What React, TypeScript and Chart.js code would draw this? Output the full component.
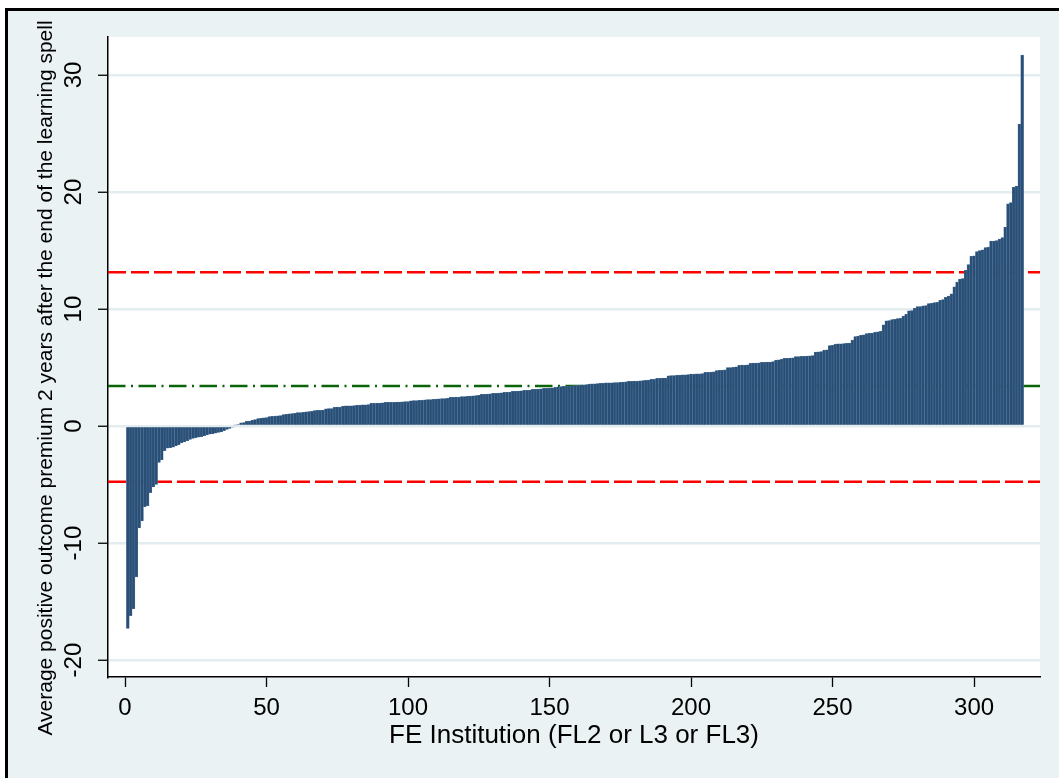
import React, { useEffect, useRef } from 'react';
import { Chart, registerables } from 'chart.js';

Chart.register(...registerables);

// Sorted average positive outcome premium per FE institution (rank 1..317)
const premiumValues: number[] = [
  -17.3, -16.2, -15.6, -12.9, -8.7, -8.1, -6.9, -6.8, -5.7, -5.2,
  -5.0, -3.1, -2.9, -2.1, -1.9, -1.85, -1.8, -1.7, -1.6, -1.45,
  -1.35, -1.25, -1.15, -1.05, -1.0, -0.95, -0.9, -0.85, -0.75, -0.7,
  -0.65, -0.6, -0.55, -0.5, -0.4, -0.3, -0.2, -0.1, 0.1, 0.12,
  0.28, 0.3, 0.4, 0.42, 0.51, 0.55, 0.63, 0.65, 0.71, 0.73,
  0.8, 0.82, 0.86, 0.88, 0.9, 0.97, 0.99, 1.05, 1.06, 1.08,
  1.14, 1.15, 1.17, 1.22, 1.23, 1.25, 1.33, 1.34, 1.35, 1.36,
  1.48, 1.49, 1.5, 1.6, 1.61, 1.63, 1.71, 1.72, 1.72, 1.73,
  1.75, 1.8, 1.8, 1.81, 1.82, 1.84, 1.94, 1.95, 1.96, 1.97,
  1.98, 2.02, 2.02, 2.03, 2.03, 2.04, 2.05, 2.06, 2.08, 2.09,
  2.16, 2.17, 2.18, 2.19, 2.2, 2.25, 2.26, 2.27, 2.28, 2.3,
  2.33, 2.34, 2.35, 2.37, 2.45, 2.46, 2.47, 2.48, 2.51, 2.52,
  2.53, 2.55, 2.59, 2.6, 2.62, 2.71, 2.72, 2.73, 2.75, 2.79,
  2.8, 2.82, 2.83, 2.87, 2.88, 2.9, 2.96, 2.97, 2.98, 3.0,
  3.05, 3.06, 3.08, 3.13, 3.14, 3.15, 3.17, 3.22, 3.23, 3.24,
  3.26, 3.3, 3.36, 3.38, 3.4, 3.41, 3.42, 3.43, 3.45, 3.48,
  3.5, 3.53, 3.55, 3.59, 3.6, 3.61, 3.62, 3.64, 3.68, 3.69,
  3.7, 3.7, 3.71, 3.72, 3.73, 3.75, 3.77, 3.82, 3.83, 3.84,
  3.85, 3.86, 3.88, 3.9, 3.92, 3.99, 4.0, 4.07, 4.08, 4.09,
  4.1, 4.3, 4.31, 4.32, 4.33, 4.36, 4.37, 4.38, 4.4, 4.44,
  4.45, 4.46, 4.47, 4.49, 4.59, 4.6, 4.62, 4.64, 4.73, 4.76,
  4.79, 4.81, 4.99, 5.0, 5.02, 5.05, 5.19, 5.2, 5.22, 5.24,
  5.36, 5.37, 5.38, 5.4, 5.44, 5.45, 5.46, 5.47, 5.5, 5.64,
  5.65, 5.7, 5.78, 5.79, 5.8, 5.82, 5.93, 5.94, 5.95, 5.96,
  5.98, 6.01, 6.03, 6.32, 6.34, 6.36, 6.5, 6.52, 6.87, 6.9,
  7.01, 7.02, 7.03, 7.05, 7.06, 7.1, 7.35, 7.64, 7.69, 7.76,
  7.8, 7.9, 7.92, 7.95, 8.0, 8.06, 8.1, 8.64, 9.0, 9.02,
  9.1, 9.12, 9.18, 9.2, 9.4, 9.55, 9.84, 9.86, 10.07, 10.2,
  10.22, 10.27, 10.3, 10.46, 10.48, 10.55, 10.57, 10.75, 10.8, 11.0,
  11.1, 11.3, 11.9, 12.3, 12.55, 12.6, 13.3, 13.8, 14.5, 14.55,
  14.9, 15.0, 15.05, 15.25, 15.3, 15.8, 15.8, 15.85, 15.97, 16.1,
  17.0, 19.0, 19.1, 20.4, 20.5, 25.8, 31.7,
];

const xTickValues: number[] = [0, 50, 100, 150, 200, 250, 300];
const yTickValues: number[] = [-20, -10, 0, 10, 20, 30];

const upperBound = 13.15; // red dashed
const meanLine = 3.42; // green dash-dot
const lowerBound = -4.76; // red dashed

const xTitle = 'FE Institution (FL2 or L3 or FL3)';
const yTitle = 'Average positive outcome premium 2 years after the end of the learning spell';

const FONT = '"Liberation Sans", Arial, Helvetica, sans-serif';

const backgroundPlugin = {
  id: 'stataBackground',
  beforeDraw(chart: any) {
    const { ctx, chartArea, width, height } = chart;
    ctx.save();
    ctx.fillStyle = '#ffffff';
    ctx.fillRect(0, 0, width, height);
    ctx.fillStyle = '#eaf2f3';
    ctx.fillRect(5, 8, width - 5, height - 8);
    ctx.fillStyle = '#000000';
    ctx.fillRect(5, 8, width - 5, 3);
    ctx.fillRect(5, 8, 3, height - 8);
    ctx.fillStyle = '#ffffff';
    ctx.fillRect(chartArea.left, chartArea.top, chartArea.right - chartArea.left, chartArea.bottom - chartArea.top);
    ctx.restore();
  },
};

const refLinePlugin = {
  id: 'refLines',
  beforeDatasetsDraw(chart: any) {
    const { ctx, chartArea, scales } = chart;
    const drawLine = (value: number, color: string, dash: number[]) => {
      const y = scales.y.getPixelForValue(value);
      ctx.save();
      ctx.beginPath();
      ctx.rect(chartArea.left, chartArea.top, chartArea.right - chartArea.left, chartArea.bottom - chartArea.top);
      ctx.clip();
      ctx.strokeStyle = color;
      ctx.lineWidth = 2.5;
      ctx.setLineDash(dash);
      ctx.beginPath();
      ctx.moveTo(chartArea.left, y);
      ctx.lineTo(chartArea.right, y);
      ctx.stroke();
      ctx.restore();
    };
    drawLine(upperBound, '#ff0000', [18, 5]);
    drawLine(lowerBound, '#ff0000', [18, 5]);
    drawLine(meanLine, '#0a640a', [17.5, 5.5, 2, 5.5]);
  },
};

const textPlugin = {
  id: 'stataText',
  afterDraw(chart: any) {
    const { ctx, chartArea, scales } = chart;
    const xs = scales.x;
    const ys = scales.y;
    ctx.save();
    ctx.fillStyle = '#000000';
    ctx.textAlign = 'center';
    ctx.textBaseline = 'middle';
    ctx.font = `24px ${FONT}`;
    xs.ticks.forEach((t: any) => {
      ctx.fillText(String(t.value), xs.getPixelForValue(t.value), chartArea.bottom + 31);
    });
    ys.ticks.forEach((t: any) => {
      const y = ys.getPixelForValue(t.value);
      ctx.save();
      ctx.translate(chartArea.left - 34, y);
      ctx.rotate(-Math.PI / 2);
      ctx.fillText(String(t.value), 0, 0);
      ctx.restore();
    });
    ctx.font = `26px ${FONT}`;
    ctx.fillText(xTitle, (chartArea.left + chartArea.right) / 2, chartArea.bottom + 59);
    ctx.save();
    ctx.font = `21px ${FONT}`;
    ctx.translate(46, 378);
    ctx.rotate(-Math.PI / 2);
    ctx.fillText(yTitle, 0, 0);
    ctx.restore();
    ctx.restore();
  },
};

export default function App() {
  const canvasRef = useRef<HTMLCanvasElement | null>(null);

  useEffect(() => {
    if (!canvasRef.current) return;
    const points = premiumValues.map((v, i) => ({ x: i + 1, y: v }));
    const chart = new Chart(canvasRef.current, {
      type: 'bar',
      data: {
        datasets: [
          {
            data: points as any,
            backgroundColor: '#2a4f76',
            borderColor: '#52779b',
            borderWidth: 0.5,
            categoryPercentage: 1,
            barPercentage: 1,
          },
        ],
      },
      options: {
        animation: false,
        responsive: false,
        devicePixelRatio: 1,
        layout: { padding: { left: 0, top: 37, right: 19, bottom: 0 } },
        plugins: { legend: { display: false }, tooltip: { enabled: false }, title: { display: false } },
        scales: {
          x: {
            type: 'linear',
            offset: false,
            min: -6.007,
            max: 323.3,
            afterBuildTicks: (scale: any) => {
              scale.ticks = xTickValues.map((v) => ({ value: v }));
            },
            afterFit: (scale: any) => {
              scale.height = 101;
            },
            ticks: { display: false },
            grid: { offset: false, color: 'rgba(0,0,0,0)', tickColor: '#000000', tickLength: 10, tickWidth: 1.3, drawTicks: true },
            border: { display: true, color: '#000000', width: 1.5 },
          },
          y: {
            type: 'linear',
            min: -21.45,
            max: 33.25,
            afterBuildTicks: (scale: any) => {
              scale.ticks = yTickValues.map((v) => ({ value: v }));
            },
            afterFit: (scale: any) => {
              scale.width = 108;
            },
            ticks: { display: false },
            grid: { color: '#e3ecef', lineWidth: 2.5, tickColor: '#000000', tickLength: 10, tickWidth: 1.3, drawTicks: true },
            border: { display: true, color: '#000000', width: 1.5 },
          },
        },
      },
      plugins: [backgroundPlugin, refLinePlugin, textPlugin],
    });
    return () => chart.destroy();
  }, []);

  return (
    <div style={{ position: 'absolute', left: 0, top: 0, width: 1059, height: 778 }}>
      <canvas ref={canvasRef} width={1059} height={778} style={{ display: 'block', width: 1059, height: 778 }} />
    </div>
  );
}
